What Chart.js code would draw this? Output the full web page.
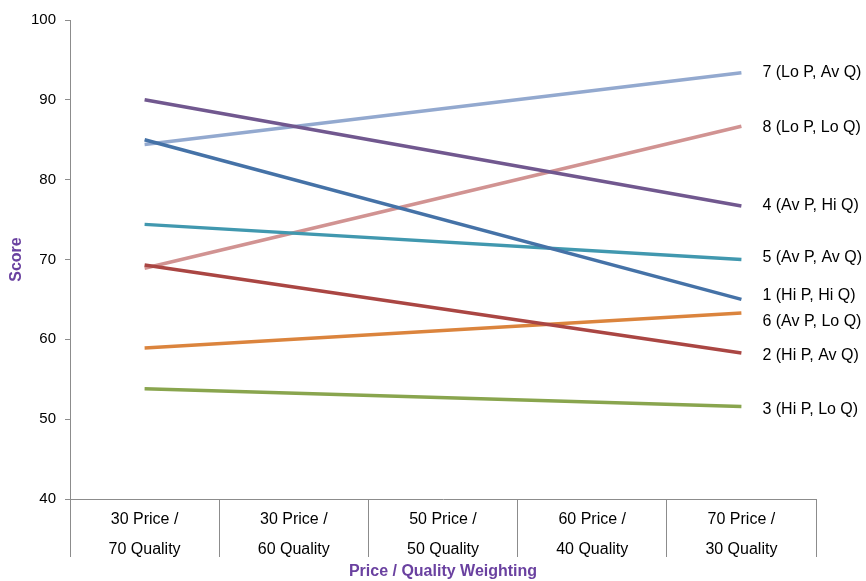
<!DOCTYPE html>
<html>
<head>
<meta charset="utf-8">
<script src="https://cdn.jsdelivr.net/npm/chart.js@4"></script>
<style>
  html, body { margin: 0; padding: 0; background: #fff; }
  #wrap { width: 866px; height: 581px; }
</style>
</head>
<body>
<div id="wrap"><canvas id="grafico" width="866" height="581"></canvas></div>
<script>
// weighting categories (two-line tick labels)
const categorias = [
    ["30 Price /", "70 Quality"],
    ["30 Price /", "60 Quality"],
    ["50 Price /", "50 Quality"],
    ["60 Price /", "40 Quality"],
    ["70 Price /", "30 Quality"]
];

const nomes = [
    "1 (Hi P, Hi Q)", "2 (Hi P, Av Q)", "3 (Hi P, Lo Q)", "4 (Av P, Hi Q)",
    "5 (Av P, Av Q)", "6 (Av P, Lo Q)", "7 (Lo P, Av Q)", "8 (Lo P, Lo Q)"
];

// score at the lowest and highest price weighting
const inicio = [85.0, 69.3, 53.8, 90.0, 74.4, 58.9, 84.4, 68.9];
const fim    = [65.0, 58.3, 51.6, 76.7, 70.0, 63.3, 93.4, 86.7];

const yTicks = [40, 50, 60, 70, 80, 90, 100];

const cores = ["#4572A7", "#AA4643", "#89A54E", "#71588F", "#4198AF", "#DB843D", "#93A9CF", "#D19392"];
// small vertical nudges (px) so the end labels don't collide
const ajusteRotulo = [-4, 3, 3, 0, -2, 9, 0, 1];

const fonte = "'Liberation Sans', Arial, sans-serif";

const datasets = nomes.map(function (nome, i) {
    return {
        label: nome,
        data: [inicio[i], null, null, null, fim[i]],
        borderColor: cores[i],
        backgroundColor: cores[i],
        borderWidth: 3.5,
        pointRadius: 0,
        pointHoverRadius: 0,
        spanGaps: true,
        tension: 0
    };
});

// writes the series name just past the end of each line
const rotulosFinais = {
    id: "rotulosFinais",
    afterDatasetsDraw(chart) {
        const ctx = chart.ctx;
        ctx.save();
        ctx.font = "16px " + fonte;
        ctx.fillStyle = "#000";
        ctx.textAlign = "left";
        ctx.textBaseline = "middle";
        chart.data.datasets.forEach(function (ds, i) {
            const meta = chart.getDatasetMeta(i);
            const pt = meta.data[meta.data.length - 1];
            ctx.fillText(ds.label, pt.x + 21, pt.y + ajusteRotulo[i]);
        });
        ctx.restore();
    }
};

const eixoCor = "#8c8c8c";
const roxo = "#6a41a0";

new Chart(document.getElementById("grafico").getContext("2d"), {
    type: "line",
    data: { labels: categorias, datasets: datasets },
    plugins: [rotulosFinais],
    options: {
        responsive: false,
        animation: false,
        events: [],
        layout: { padding: { left: 0, right: 50, top: 20, bottom: 0 } },
        plugins: {
            legend: { display: false },
            tooltip: { enabled: false }
        },
        scales: {
            x: {
                offset: true,
                grid: {
                    offset: true,
                    drawOnChartArea: false,
                    drawTicks: true,
                    tickLength: 58,
                    color: eixoCor,
                    lineWidth: 1
                },
                border: { display: true, color: eixoCor, width: 1 },
                ticks: {
                    color: "#000",
                    padding: -52,
                    font: { family: fonte, size: 16, lineHeight: 1.875 },
                    maxRotation: 0
                },
                title: {
                    display: true,
                    text: "Price / Quality Weighting",
                    color: roxo,
                    font: { family: fonte, size: 16, weight: "bold" },
                    padding: { top: 0, bottom: 0 }
                },
                afterFit(scale) { scale.height = 82; }
            },
            y: {
                min: 40,
                max: 100,
                afterBuildTicks(scale) {
                    scale.ticks = yTicks.map(function (v) { return { value: v }; });
                },
                grid: {
                    drawOnChartArea: false,
                    tickLength: 5,
                    color: eixoCor
                },
                border: { display: true, color: eixoCor, width: 1 },
                ticks: {
                    color: "#000",
                    padding: 9,
                    font: { family: fonte, size: 15 }
                },
                title: {
                    display: true,
                    text: "Score",
                    color: roxo,
                    font: { family: fonte, size: 16, weight: "bold" },
                    padding: { top: 7, bottom: 0 }
                },
                afterFit(scale) { scale.width = 70; }
            }
        }
    }
});
</script>
</body>
</html>
